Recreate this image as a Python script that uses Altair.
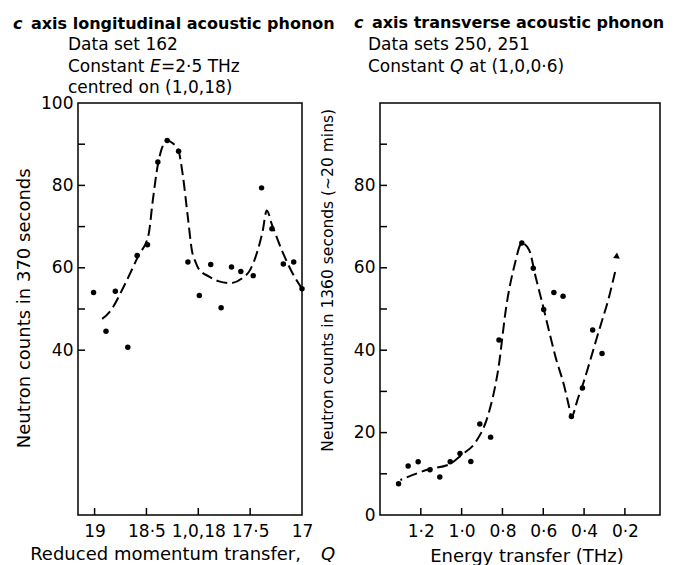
import altair as alt
import pandas as pd

FONT = "DejaVu Sans"

# ---- c axis longitudinal acoustic phonon: constant-E scan (data set 162) ----
q_obs = [19.01, 18.89, 18.80, 18.68, 18.59, 18.49, 18.39, 18.30, 18.19, 18.10,
         17.99, 17.88, 17.78, 17.68, 17.59, 17.47, 17.39, 17.29, 17.18, 17.08, 17.00]
n370_obs = [54.0, 44.6, 54.3, 40.7, 63.0, 65.6, 85.7, 90.9, 88.3, 61.4,
            53.3, 60.8, 50.3, 60.2, 59.1, 58.1, 79.4, 69.5, 60.9, 61.4, 54.9]

q_fit = [18.96, 18.84, 18.71, 18.58, 18.48, 18.44, 18.39, 18.35, 18.30, 18.25,
         18.19, 18.15, 18.10, 18.06, 18.03, 18.00, 17.90, 17.80, 17.69, 17.58,
         17.50, 17.43, 17.38, 17.34, 17.29, 17.19, 17.10, 17.00]
n370_fit = [47.0, 49.8, 55.9, 62.8, 68.0, 76.1, 85.0, 89.1, 90.9, 90.3,
            88.3, 82.6, 72.1, 64.0, 61.6, 59.9, 57.9, 56.7, 56.3, 57.4,
            59.5, 64.0, 68.8, 73.9, 70.5, 64.0, 59.1, 54.9]

q_ticks = [19, 18.5, 18, 17.5, 17]
q_tick_labels = ["19", "18·5", "1,0,18", "17·5", "17"]
q_inner_ticks = [19, 18.5, 18, 17.5]
left_y_labels = [40, 60, 80, 100]
left_y_ticks = [40, 50, 60, 70, 80, 90]

# ---- c axis transverse acoustic phonon: constant-Q scan (data sets 250, 251) ----
e_obs = [1.309, 1.262, 1.213, 1.155, 1.107, 1.056, 1.008, 0.955, 0.911, 0.858,
         0.817, 0.705, 0.649, 0.598, 0.548, 0.503, 0.462, 0.408, 0.358, 0.312]
n1360_obs = [7.6, 11.9, 12.9, 11.0, 9.2, 12.9, 14.9, 13.0, 22.1, 18.9,
             42.5, 66.0, 59.9, 49.9, 54.0, 53.1, 23.9, 30.8, 44.9, 39.2]

e_fit = [1.30, 1.16, 1.06, 1.00, 0.93, 0.87, 0.82, 0.78, 0.74, 0.705,
         0.67, 0.636, 0.60, 0.57, 0.535, 0.50, 0.475, 0.462,
         0.43, 0.40, 0.37, 0.34, 0.31, 0.28, 0.26, 0.248]
n1360_fit = [8.5, 11.1, 12.3, 14.6, 17.8, 24.3, 35.6, 51.0, 60.8, 66.0,
             64.4, 57.5, 50.5, 44.3, 37.5, 31.8, 26.6, 23.9,
             28.3, 32.6, 37.5, 42.6, 47.5, 52.5, 56.5, 59.0]
arrow_e = [0.240]
arrow_n = [63.0]

e_ticks = [1.2, 1.0, 0.8, 0.6, 0.4, 0.2]
e_tick_labels = ["1·2", "1·0", "0·8", "0·6", "0·4", "0·2"]
right_y_labels = [0, 20, 40, 60, 80]
right_y_ticks = [10, 20, 30, 40, 50, 60, 70, 80, 90]

LW, RW, H = 224, 280, 412
TICK = 7


def label_expr(values, labels):
    expr = "''"
    for v, t in reversed(list(zip(values, labels))):
        expr = f"datum.value == {v} ? '{t}' : {expr}"
    return expr


def text(content, x, y, size=17, weight="normal", style="normal",
         align="left", angle=0):
    return alt.Chart(alt.Data(values=[{}])).mark_text(
        font=FONT, fontSize=size, fontWeight=weight, fontStyle=style,
        align=align, baseline="middle", angle=angle, color="black",
    ).encode(x=alt.value(x), y=alt.value(y), text=alt.value(content))


dash = [11, 5]
DOT = 30

# ---------------- left panel ----------------
lx = alt.Scale(domain=[19.16, 17.0], nice=False, zero=False)
ly = alt.Scale(domain=[0, 100], nice=False, zero=False)
lx_axis = alt.Axis(values=q_ticks, labelExpr=label_expr(q_ticks, q_tick_labels),
                   title=None, labelPadding=8, labelFlush=False, labelOverlap=False)
ly_axis = alt.Axis(values=left_y_labels, title=None, labelPadding=5,
                   labelFlush=False, labelOverlap=False)

left_pts = pd.DataFrame({"q": q_obs, "n": n370_obs})
left_fit = pd.DataFrame({"q": q_fit, "n": n370_fit})

left_points = alt.Chart(left_pts).mark_circle(size=DOT, color="black", opacity=1).encode(
    x=alt.X("q:Q", scale=lx, axis=lx_axis),
    y=alt.Y("n:Q", scale=ly, axis=ly_axis),
)
left_line = alt.Chart(left_fit).mark_line(
    color="black", strokeWidth=2, strokeDash=dash, interpolate="monotone"
).encode(
    x=alt.X("q:Q", scale=lx, axis=lx_axis),
    y=alt.Y("n:Q", scale=ly, axis=ly_axis),
    order="q:Q",
)
left_yt = alt.Chart(pd.DataFrame({"n": left_y_ticks})).mark_rule(
    color="black", strokeWidth=1.5
).encode(y=alt.Y("n:Q", scale=ly, axis=ly_axis), x=alt.value(0), x2=alt.value(TICK))
left_xt = alt.Chart(pd.DataFrame({"q": q_inner_ticks})).mark_rule(
    color="black", strokeWidth=1.5
).encode(x=alt.X("q:Q", scale=lx, axis=lx_axis), y=alt.value(H), y2=alt.value(H - TICK))

# page anchor so the plot area lands at a fixed offset
anchor = alt.Chart(alt.Data(values=[{}])).mark_point(size=1, opacity=0).encode(
    x=alt.value(-76.7), y=alt.value(-101.7))

left = alt.layer(
    left_points, left_line, left_yt, left_xt, anchor,
    text("c", -65, -79, size=16, weight="bold", style="italic"),
    text("axis longitudinal acoustic phonon", -47, -79, size=16, weight="bold"),
    text("Data set 162", -10, -57.7),
    text("Constant", -10, -35.7),
    text("E", 72, -35.7, style="italic"),
    text("=2·5 THz", 83, -35.7),
    text("centred on (1,0,18)", -10, -14.7),
    text("Neutron counts in 370 seconds", -52.7, 205.3, size=18, angle=270, align="center"),
    text("Reduced momentum transfer,", 223, 452, size=18, align="right"),
    text("Q", 243, 452, size=18, style="italic"),
).properties(width=LW, height=H)

# ---------------- right panel ----------------
rx = alt.Scale(domain=[1.40, 0.028], nice=False, zero=False)
ry = alt.Scale(domain=[0, 100], nice=False, zero=False)
rx_axis = alt.Axis(values=e_ticks, labelExpr=label_expr(e_ticks, e_tick_labels),
                   title=None, labelPadding=8, labelFlush=False, labelOverlap=False)
ry_axis = alt.Axis(values=right_y_labels, title=None, labelPadding=5,
                   labelFlush=False, labelOverlap=False)

right_pts = pd.DataFrame({"e": e_obs, "n": n1360_obs})
right_fit = pd.DataFrame({"e": e_fit, "n": n1360_fit})

right_points = alt.Chart(right_pts).mark_circle(size=DOT, color="black", opacity=1).encode(
    x=alt.X("e:Q", scale=rx, axis=rx_axis),
    y=alt.Y("n:Q", scale=ry, axis=ry_axis),
)
right_line = alt.Chart(right_fit).mark_line(
    color="black", strokeWidth=2, strokeDash=dash, interpolate="monotone"
).encode(
    x=alt.X("e:Q", scale=rx, axis=rx_axis),
    y=alt.Y("n:Q", scale=ry, axis=ry_axis),
    order="e:Q",
)
right_arrow = alt.Chart(pd.DataFrame({"e": arrow_e, "n": arrow_n})).mark_point(
    shape="triangle-up", filled=True, color="black", size=45, angle=6, opacity=1
).encode(x=alt.X("e:Q", scale=rx, axis=rx_axis), y=alt.Y("n:Q", scale=ry, axis=ry_axis))
right_yt = alt.Chart(pd.DataFrame({"n": right_y_ticks})).mark_rule(
    color="black", strokeWidth=1.5
).encode(y=alt.Y("n:Q", scale=ry, axis=ry_axis), x=alt.value(0), x2=alt.value(TICK))
right_xt = alt.Chart(pd.DataFrame({"e": e_ticks})).mark_rule(
    color="black", strokeWidth=1.5
).encode(x=alt.X("e:Q", scale=rx, axis=rx_axis), y=alt.value(H), y2=alt.value(H - TICK))

right = alt.layer(
    right_points, right_line, right_arrow, right_yt, right_xt,
    text("c", -26, -80, size=16, weight="bold", style="italic"),
    text("axis transverse acoustic phonon", -8, -80, size=16, weight="bold"),
    text("Data sets 250, 251", -12, -57.7),
    text("Constant", -12, -35.7),
    text("Q", 70, -35.7, style="italic"),
    text("at (1,0,0·6)", 89, -35.7),
    text("Neutron counts in 1360 seconds (~20 mins)", -52.3, 177.3, size=15.5,
         angle=270, align="center"),
    text("Energy transfer (THz)", 147, 454, size=18, align="center"),
).properties(width=RW, height=H)

chart = alt.hconcat(left, right, spacing=78, bounds="flush").properties(
    padding=0
).configure_view(
    stroke="black", strokeWidth=1.5
).configure_axis(
    domain=False, ticks=False, grid=False,
    labelFont=FONT, labelFontSize=17, labelColor="black",
)

chart.save("out.html", embed_options={"renderer": "svg", "actions": False})
